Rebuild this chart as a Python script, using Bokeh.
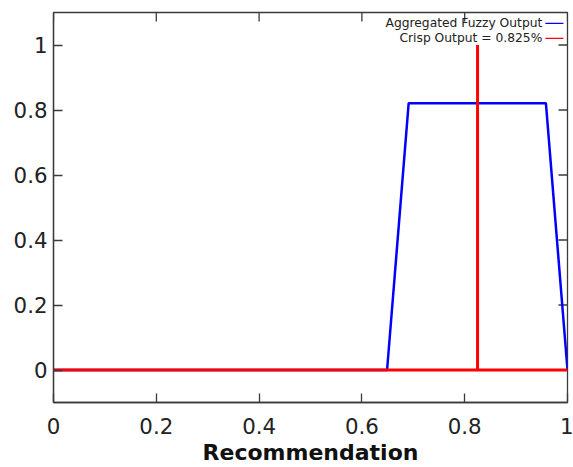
import math
from bokeh.plotting import figure
from bokeh.models import Label, BoxAnnotation, FixedTicker, Range1d
from bokeh.embed import file_html
from bokeh.resources import INLINE

# data
agg_x = [0.0, 0.649, 0.691, 0.958, 1.0]
agg_y = [0.0, 0.0, 0.821, 0.821, 0.0]
crisp_value = 0.825
crisp_x = [0.0, 1.0, None, crisp_value, crisp_value]
crisp_y = [0.0, 0.0, None, 0.0, 1.0]
x_ticks = [0, 0.2, 0.4, 0.6, 0.8, 1]
x_tick_labels = ["0", "0.2", "0.4", "0.6", "0.8", "1"]
y_ticks = [0, 0.2, 0.4, 0.6, 0.8, 1]
y_tick_labels = ["0", "0.2", "0.4", "0.6", "0.8", "1"]
legend_labels = ["Aggregated Fuzzy Output", "Crisp Output = 0.825%"]
x_title = "Recommendation"

FONT = "DejaVu Sans"
AX = "#3a3a3a"
X_MIN, X_MAX = 0, 1
Y_MIN, Y_MAX = -0.1, 1.1

p = figure(width=573, height=467, output_backend="svg", toolbar_location=None,
           x_range=Range1d(X_MIN, X_MAX), y_range=Range1d(Y_MIN, Y_MAX),
           min_border_left=53, min_border_right=6, min_border_top=12, min_border_bottom=64)
p.grid.visible = False
p.outline_line_color = AX
p.outline_line_width = 1.3
p.background_fill_color = "white"

def style_axis(ax):
    ax.axis_line_color = AX
    ax.axis_line_width = 1.3
    ax.major_tick_line_color = AX
    ax.major_tick_line_width = 1.3
    ax.major_tick_in = 9
    ax.major_tick_out = 0
    ax.minor_tick_line_color = None
    ax.major_label_text_font = FONT
    ax.major_label_text_color = "#222222"
    ax.major_label_text_font_size = "16pt"

xa = p.xaxis[0]
ya = p.yaxis[0]
xa.ticker = FixedTicker(ticks=x_ticks)
ya.ticker = FixedTicker(ticks=y_ticks)
xa.major_label_overrides = {t: l for t, l in zip(x_ticks, x_tick_labels)}
ya.major_label_overrides = {t: l for t, l in zip(y_ticks, y_tick_labels)}
style_axis(xa)
style_axis(ya)
xa.major_label_standoff = 15
ya.major_label_standoff = 6
xa.axis_label = x_title
xa.axis_label_text_font = FONT
xa.axis_label_text_font_style = "bold"
xa.axis_label_text_font_size = "22px"
xa.axis_label_text_color = "#111111"
xa.axis_label_standoff = 3

# mirrored inward ticks on top and right edges
p.ray(x=x_ticks, y=[Y_MAX] * len(x_ticks), length=9, length_units="screen",
      angle=-math.pi / 2, line_color=AX, line_width=1.3)
p.ray(x=[X_MAX] * len(y_ticks), y=y_ticks, length=9, length_units="screen",
      angle=math.pi, line_color=AX, line_width=1.3)

p.line(agg_x, agg_y, line_color="#0000ff", line_width=2.5)
p.line(crisp_x, crisp_y, line_color="#ff0000", line_width=3)

legend_y = [1.0666, 1.0205]
legend_colors = ["#0000ff", "#ff0000"]
for lab, yy, c in zip(legend_labels, legend_y, legend_colors):
    p.add_layout(Label(x=0.951, y=yy, text=lab, text_align="right", text_baseline="middle",
                       text_font=FONT, text_font_size="12.3px", text_color="#222222"))
    p.add_layout(BoxAnnotation(left=0.957, right=0.992, bottom=yy - 0.002, top=yy + 0.002,
                               fill_color=c, fill_alpha=1, line_color=None))

open("out.html", "w").write(file_html(p, INLINE))
